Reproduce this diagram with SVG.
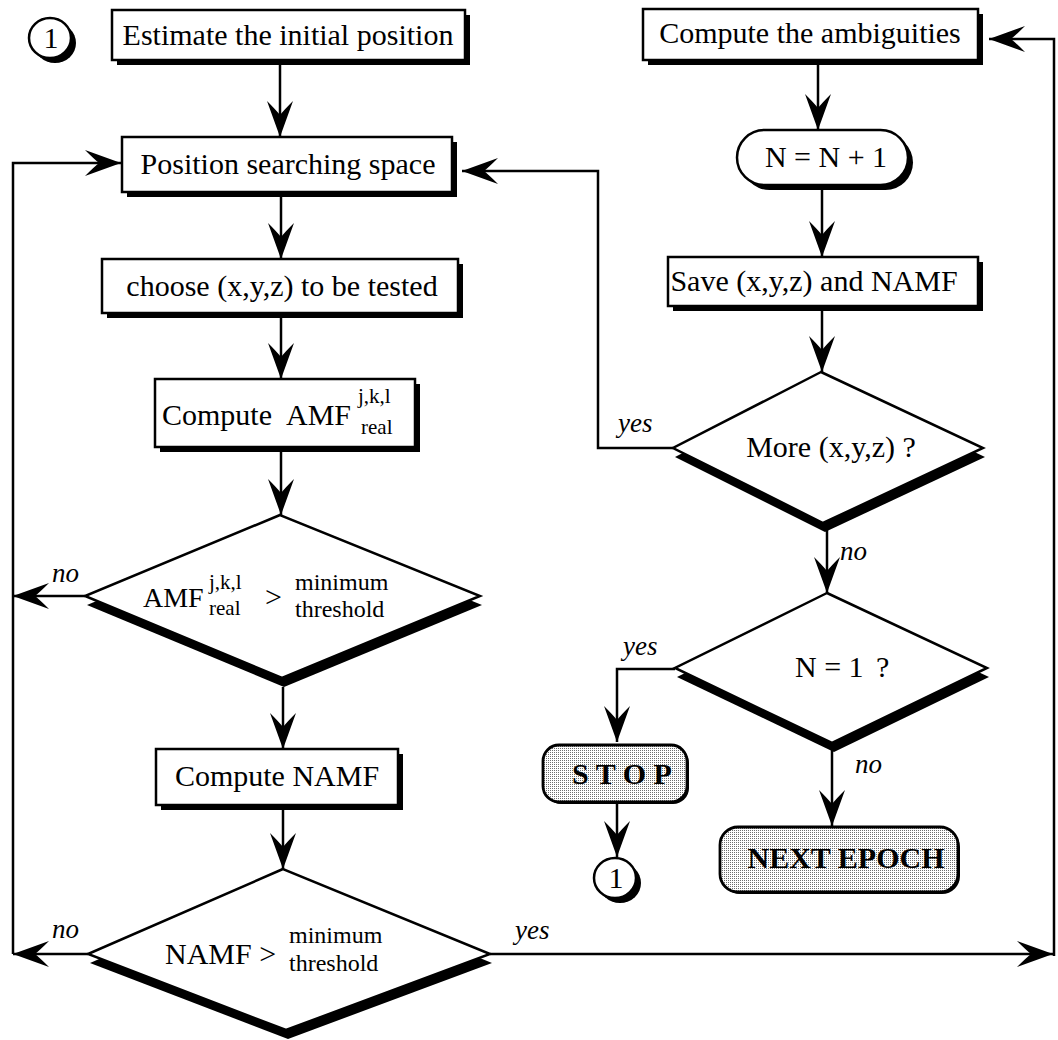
<svg xmlns="http://www.w3.org/2000/svg" width="1058" height="1040" viewBox="0 0 1058 1040">
<defs>
<style>
 .box{fill:#fff;stroke:#000;stroke-width:2.5}
 .dot{fill:url(#dots);stroke:#000;stroke-width:2.8}
 .sh{fill:#000;stroke:none}
 text{font-family:"Liberation Serif","Times New Roman",serif;font-size:30px;fill:#000}
 .m{text-anchor:middle}
 .s{font-size:24px}
 .sup{font-size:21px}
 .b{font-weight:bold}
 .i{font-style:italic;font-size:27px}
 .ln{fill:none;stroke:#000;stroke-width:2.5;marker-end:url(#ah)}
</style>
<marker id="ah" viewBox="-37 -14 38 28" refX="0" refY="0" markerWidth="38" markerHeight="28" markerUnits="userSpaceOnUse" orient="auto">
 <path d="M0,0 L-36,-13 Q-27,-4 -22,0 Q-27,4 -36,13 Z"/>
</marker>
<pattern id="dots" width="2" height="2" patternUnits="userSpaceOnUse">
 <rect width="2" height="2" fill="#fff"/>
 <rect width="1" height="1" fill="#6e6e6e"/>
</pattern>
</defs>
<rect width="1058" height="1040" fill="#fff"/>

<!-- connectors -->
<g id="connectors">
 <path class="ln" d="M280,60 V137"/>
 <path class="ln" d="M281,192 V259"/>
 <path class="ln" d="M281,313 V379"/>
 <path class="ln" d="M281,447 V515"/>
 <path class="ln" d="M283,687 V749"/>
 <path class="ln" d="M283,806 V869"/>
 <path class="ln" d="M85,596 H13"/>
 <path class="ln" d="M88,954 H13"/>
 <path class="ln" d="M13,954 V163 H121"/>
 <path class="ln" d="M490,954 H1053"/>
 <path class="ln" d="M1054,956 V39 H989"/>
 <path class="ln" d="M818,60 V130"/>
 <path class="ln" d="M822,185 V257"/>
 <path class="ln" d="M822,306 V372"/>
 <path class="ln" d="M673,448 H598 V171 H462"/>
 <path class="ln" d="M827,530 V593"/>
 <path class="ln" d="M675,669 H617 V742"/>
 <path class="ln" d="M617,802 V857"/>
 <path class="ln" d="M832,750 V826"/>
 <text class="i" x="52" y="582">no</text>
 <text class="i" x="52" y="938">no</text>
 <text class="i" x="515" y="939">yes</text>
 <text class="i" x="618" y="432">yes</text>
 <text class="i" x="840" y="560">no</text>
 <text class="i" x="623" y="655">yes</text>
 <text class="i" x="855" y="773">no</text>
</g>

<!-- left column -->
<g id="start">
 <ellipse class="sh" cx="55" cy="43" rx="21" ry="20"/>
 <ellipse class="box" cx="50" cy="38" rx="21" ry="20"/>
 <text class="m" x="51" y="48">1</text>
</g>
<g id="estimate">
 <rect class="sh" x="117" y="15" width="353" height="50"/>
 <rect class="box" x="112" y="10" width="353" height="50"/>
 <text class="m" x="288" y="45">Estimate the initial position</text>
</g>
<g id="search-space">
 <rect class="sh" x="127" y="142" width="330" height="55"/>
 <rect class="box" x="122" y="137" width="330" height="55"/>
 <text class="m" x="288" y="174">Position searching space</text>
</g>
<g id="choose">
 <rect class="sh" x="107" y="264" width="356" height="54"/>
 <rect class="box" x="102" y="259" width="356" height="54"/>
 <text class="m" x="282" y="296">choose (x,y,z) to be tested</text>
</g>
<g id="compute-amf">
 <rect class="sh" x="160" y="384" width="260" height="68"/>
 <rect class="box" x="155" y="379" width="260" height="68"/>
 <text x="162" y="425">Compute</text>
 <text x="286" y="425">AMF</text>
 <text class="sup" x="358" y="403">j,k,l</text>
 <text class="sup" x="361" y="434">real</text>
</g>
<g id="amf-test">
 <polygon class="sh" points="282,524 87,605 284,687 482,605"/>
 <polygon class="box" points="280,515 85,596 282,678 480,596"/>
 <text x="143" y="607" style="font-size:28px">AMF</text>
 <text class="sup" x="209" y="589">j,k,l</text>
 <text class="sup" x="209" y="615">real</text>
 <text x="265" y="607">&gt;</text>
 <text class="s" x="295" y="590">minimum</text>
 <text class="s" x="295" y="617">threshold</text>
</g>
<g id="compute-namf">
 <rect class="sh" x="161" y="754" width="242" height="56"/>
 <rect class="box" x="156" y="749" width="242" height="56"/>
 <text class="m" x="277" y="786">Compute NAMF</text>
</g>
<g id="namf-test">
 <polygon class="sh" points="285,878 90,963 288,1039 492,963"/>
 <polygon class="box" points="283,869 88,954 286,1030 490,954"/>
 <text x="165" y="964">NAMF &gt;</text>
 <text class="s" x="289" y="943">minimum</text>
 <text class="s" x="289" y="971">threshold</text>
</g>

<!-- right column -->
<g id="ambiguities">
 <rect class="sh" x="648" y="14" width="335" height="51"/>
 <rect class="box" x="643" y="9" width="335" height="51"/>
 <text class="m" x="810" y="43">Compute the ambiguities</text>
</g>
<g id="increment">
 <rect class="sh" x="742" y="135" width="171" height="55" rx="27.5"/>
 <rect class="box" x="737" y="130" width="171" height="55" rx="27.5"/>
 <text class="m" x="826" y="167">N = N + 1</text>
</g>
<g id="save">
 <rect class="sh" x="673" y="262" width="310" height="49"/>
 <rect class="box" x="668" y="257" width="310" height="49"/>
 <text class="m" x="814" y="291">Save (x,y,z) and NAMF</text>
</g>
<g id="more-test">
 <polygon class="sh" points="823,381 675,457 825,532 985,457"/>
 <polygon class="box" points="821,372 673,448 823,523 983,448"/>
 <text class="m" x="831" y="457">More (x,y,z) ?</text>
</g>
<g id="single-test">
 <polygon class="sh" points="829,602 677,677 834,752 989,677"/>
 <polygon class="box" points="827,593 675,668 832,743 987,668"/>
 <text x="795" y="677">N = 1</text>
 <text x="876" y="677">?</text>
</g>
<g id="stop">
 <rect class="sh" x="545" y="747" width="144" height="57" rx="16"/>
 <rect class="dot" x="543" y="745" width="144" height="57" rx="16"/>
 <text class="m b" x="622" y="784">S T O P</text>
</g>
<g id="restart">
 <ellipse class="sh" cx="620" cy="883" rx="21" ry="20"/>
 <ellipse class="box" cx="615" cy="878" rx="21" ry="20"/>
 <text class="m" x="616" y="888">1</text>
</g>
<g id="next-epoch">
 <rect class="sh" x="722" y="829" width="238" height="65" rx="18"/>
 <rect class="dot" x="720" y="827" width="238" height="65" rx="18"/>
 <text class="m b" x="846" y="868">NEXT EPOCH</text>
</g>
</svg>
